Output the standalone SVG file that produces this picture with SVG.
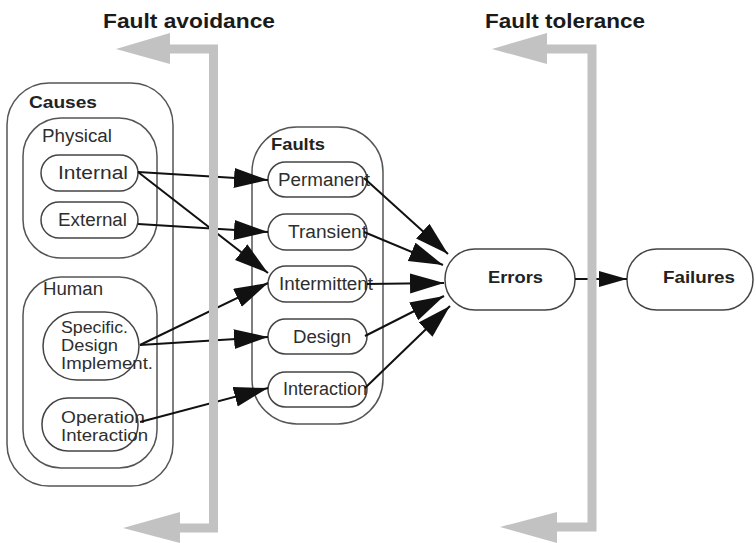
<svg xmlns="http://www.w3.org/2000/svg" width="756" height="543" viewBox="0 0 756 543">
<style>
.box{fill:#fff;stroke:#555;stroke-width:1.5}
.pill{fill:#fff;stroke:#444;stroke-width:1.5}
.t{font-family:"Liberation Sans",Arial,sans-serif;font-size:18px;fill:#2e2e2e}
.m{font-size:16px}
.b{font-family:"Liberation Sans",Arial,sans-serif;font-weight:bold;font-size:17px;fill:#222}
.title{font-family:"Liberation Sans",Arial,sans-serif;font-weight:bold;font-size:20px;fill:#1a1a1a}
.c{fill:none;stroke:#111;stroke-width:2}
.g{fill:none;stroke:#c2c2c2;stroke-width:9}
.gh{fill:#c2c2c2}
</style>
<defs>
<marker id="ah" markerUnits="userSpaceOnUse" markerWidth="36" markerHeight="22" refX="34" refY="10" orient="auto">
<path d="M0,0 L34,10 L0,20 z" fill="#111"/>
</marker>
<marker id="ah2" markerUnits="userSpaceOnUse" markerWidth="30" markerHeight="18" refX="28" refY="8" orient="auto">
<path d="M0,0 L28,8 L0,16 z" fill="#111"/>
</marker>
</defs>
<rect width="756" height="543" fill="#fff"/>

<g id="causes">
<rect class="box" x="7" y="83" width="166" height="403" rx="42"/>
<text class="b" x="29" y="108" textLength="68" lengthAdjust="spacingAndGlyphs">Causes</text>
</g>
<g id="physical">
<rect class="box" x="23" y="118" width="134" height="140" rx="38"/>
<text class="t" x="42" y="142" textLength="70" lengthAdjust="spacingAndGlyphs">Physical</text>
</g>
<g id="internal">
<rect class="pill" x="41" y="155" width="97" height="36" rx="18"/>
<text class="t" x="58" y="179" textLength="70" lengthAdjust="spacingAndGlyphs">Internal</text>
</g>
<g id="external">
<rect class="pill" x="41" y="202" width="97" height="36" rx="18"/>
<text class="t" x="58" y="226" textLength="69" lengthAdjust="spacingAndGlyphs">External</text>
</g>
<g id="human">
<rect class="box" x="23" y="277" width="134" height="191" rx="38"/>
<text class="t" x="43" y="295" textLength="60" lengthAdjust="spacingAndGlyphs">Human</text>
</g>
<g id="specific">
<rect class="pill" x="43" y="312" width="96" height="68" rx="34"/>
<text class="t m" x="61" y="333" textLength="67" lengthAdjust="spacingAndGlyphs">Specific.</text>
<text class="t m" x="61" y="351" textLength="57" lengthAdjust="spacingAndGlyphs">Design</text>
<text class="t m" x="61" y="369" textLength="92" lengthAdjust="spacingAndGlyphs">Implement.</text>
</g>
<g id="operation">
<rect class="pill" x="42" y="398" width="96" height="53" rx="26"/>
<text class="t m" x="61" y="423" textLength="84" lengthAdjust="spacingAndGlyphs">Operation</text>
<text class="t m" x="61" y="441" textLength="87" lengthAdjust="spacingAndGlyphs">Interaction</text>
</g>

<g id="faults">
<rect class="box" x="252" y="127" width="131" height="297" rx="45"/>
<text class="b" x="271" y="150" textLength="54" lengthAdjust="spacingAndGlyphs">Faults</text>
</g>
<g id="permanent">
<rect class="pill" x="268" y="162" width="99" height="35" rx="17.5"/>
<text class="t" x="278" y="186" textLength="92" lengthAdjust="spacingAndGlyphs">Permanent</text>
</g>
<g id="transient">
<rect class="pill" x="268" y="214" width="99" height="36" rx="18"/>
<text class="t" x="288" y="238" textLength="79" lengthAdjust="spacingAndGlyphs">Transient</text>
</g>
<g id="intermittent">
<rect class="pill" x="268" y="266" width="99" height="36" rx="18"/>
<text class="t" x="279" y="290" textLength="94" lengthAdjust="spacingAndGlyphs">Intermittent</text>
</g>
<g id="design">
<rect class="pill" x="268" y="319" width="99" height="35" rx="17.5"/>
<text class="t" x="293" y="343" textLength="58" lengthAdjust="spacingAndGlyphs">Design</text>
</g>
<g id="interaction">
<rect class="pill" x="268" y="372" width="99" height="35" rx="17.5"/>
<text class="t" x="283" y="395" textLength="84" lengthAdjust="spacingAndGlyphs">Interaction</text>
</g>

<g id="errors">
<rect class="pill" x="445" y="249" width="130" height="61" rx="30"/>
<text class="b" x="488" y="283" textLength="55" lengthAdjust="spacingAndGlyphs">Errors</text>
</g>
<g id="failures">
<rect class="pill" x="627" y="249" width="126" height="61" rx="30"/>
<text class="b" x="663" y="283" textLength="72" lengthAdjust="spacingAndGlyphs">Failures</text>
</g>

<g id="connectors">
<path class="c" d="M138,172 L268,180" marker-end="url(#ah)"/>
<path class="c" d="M138,172 L268,273" marker-end="url(#ah)"/>
<path class="c" d="M138,224 L268,232" marker-end="url(#ah)"/>
<path class="c" d="M140,345 L268,283" marker-end="url(#ah)"/>
<path class="c" d="M140,345 L268,337" marker-end="url(#ah)"/>
<path class="c" d="M140,422 L268,388" marker-end="url(#ah)"/>
<path class="c" d="M364,178 L448,254" marker-end="url(#ah)"/>
<path class="c" d="M364,232 L443,265" marker-end="url(#ah)"/>
<path class="c" d="M367,284 L444,283" marker-end="url(#ah)"/>
<path class="c" d="M365,336 L444,296" marker-end="url(#ah)"/>
<path class="c" d="M365,388 L450,306" marker-end="url(#ah)"/>
<path class="c" d="M575,279 L627,279" marker-end="url(#ah2)"/>
</g>

<g id="fault-avoidance">
<text class="title" x="103" y="28" textLength="172" lengthAdjust="spacingAndGlyphs">Fault avoidance</text>
<polyline class="g" points="168,49 213.5,49 213.5,528 178,528"/>
<polygon class="gh" points="116,49 170,33 170,64"/>
<polygon class="gh" points="123,528 180,512 180,543"/>
</g>
<g id="fault-tolerance">
<text class="title" x="485" y="28" textLength="160" lengthAdjust="spacingAndGlyphs">Fault tolerance</text>
<polyline class="g" points="545,49 592,49 592,527 555,527"/>
<polygon class="gh" points="492,49 547,33 547,64"/>
<polygon class="gh" points="500,527 557,512 557,543"/>
</g>
</svg>
